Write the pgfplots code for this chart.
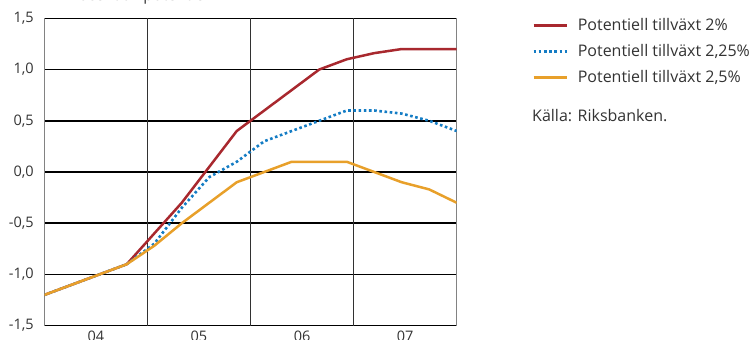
\documentclass[border=0pt]{standalone}
\usepackage{pgfplots}
\pgfplotsset{compat=1.18}
\usepackage{fontspec}
\setmainfont{Open Sans}

\definecolor{potred}{RGB}{168,40,46}
\definecolor{potblue}{RGB}{20,124,196}
\definecolor{potorange}{RGB}{232,160,42}
\definecolor{gridgray}{RGB}{50,50,50}
\definecolor{framegray}{RGB}{130,130,130}

\begin{document}
\begin{tikzpicture}[x=1pt,y=1pt]
\useasboundingbox (0,0) rectangle (753,340);
\node[anchor=base west, font=\fontsize{15.5}{18}\selectfont, text=black!80, inner sep=0pt]
  at (63,339.8) {Procent av potentiell BNP};
\begin{axis}[
  at={(44.3pt,14.3pt)}, anchor=south west,
  scale only axis, width=412.4pt, height=307.4pt,
  xmin=0, xmax=15, ymin=-1.5, ymax=1.5,
  xtick={1.875,5.625,9.375,13.125},
  xticklabels={04,05,06,07},
  extra x ticks={3.75,7.5,11.25},
  extra x tick labels={},
  extra x tick style={grid=major, major grid style={gridgray, line width=1pt}},
  ytick={-1.5,-1,-0.5,0,0.5,1,1.5},
  yticklabels={{-1,5},{-1,0},{-0,5},{0,0},{0,5},{1,0},{1,5}},
  ymajorgrids, major grid style={black, line width=1.5pt},
  major tick length=0pt,
  separate axis lines,
  x axis line style={black, line width=1.5pt},
  y axis line style={framegray, line width=1.3pt},
  tick label style={font=\fontsize{14.5}{16}\selectfont, text=black!80},
  yticklabel style={xshift=-7pt},
  xticklabel style={yshift=-2pt},
  legend style={at={(1.1826,1.001)}, anchor=north west, draw=none, fill=none,
    font=\fontsize{16}{18}\selectfont, text=black!80,
    inner sep=0pt, row sep=10pt,
    nodes={inner sep=0pt, anchor=base west, text height=12pt, text depth=4pt}},
  legend cell align=left,
  legend image code/.code={\draw[#1] (0pt,4.5pt) -- (33pt,4.5pt);},
  legend style={/tikz/every odd column/.append style={column sep=10pt}},
]
\addplot[potred, line width=2.5pt] coordinates {
  (0,-1.2) (1,-1.1) (2,-1.0) (3,-0.9) (4,-0.6) (5,-0.3) (6,0.05) (7,0.4)
  (8,0.6) (9,0.8) (10,1.0) (11,1.1) (12,1.16) (13,1.2) (14,1.2) (15,1.2)};
\addlegendentry{Potentiell tillväxt 2\%}
\addplot[potblue, line width=2.6pt, dash pattern=on 2.6pt off 2.6pt] coordinates {
  (0,-1.2) (1,-1.1) (2,-1.0) (3,-0.9) (4,-0.7) (5,-0.35) (6,-0.05) (7,0.1)
  (8,0.3) (9,0.4) (10,0.5) (11,0.6) (12,0.6) (13,0.57) (14,0.5) (15,0.4)};
\addlegendentry{Potentiell tillväxt 2,25\%}
\addplot[potorange, line width=2.5pt] coordinates {
  (0,-1.2) (1,-1.1) (2,-1.0) (3,-0.9) (4,-0.72) (5,-0.5) (6,-0.3) (7,-0.1)
  (8,0.0) (9,0.1) (10,0.1) (11,0.1) (12,0.0) (13,-0.1) (14,-0.17) (15,-0.3)};
\addlegendentry{Potentiell tillväxt 2,5\%}
\end{axis}
\node[anchor=base west, font=\fontsize{16}{18}\selectfont, text=black!80, inner sep=0pt]
  at (532,218) {Källa: Riksbanken.};
\end{tikzpicture}
\end{document}
